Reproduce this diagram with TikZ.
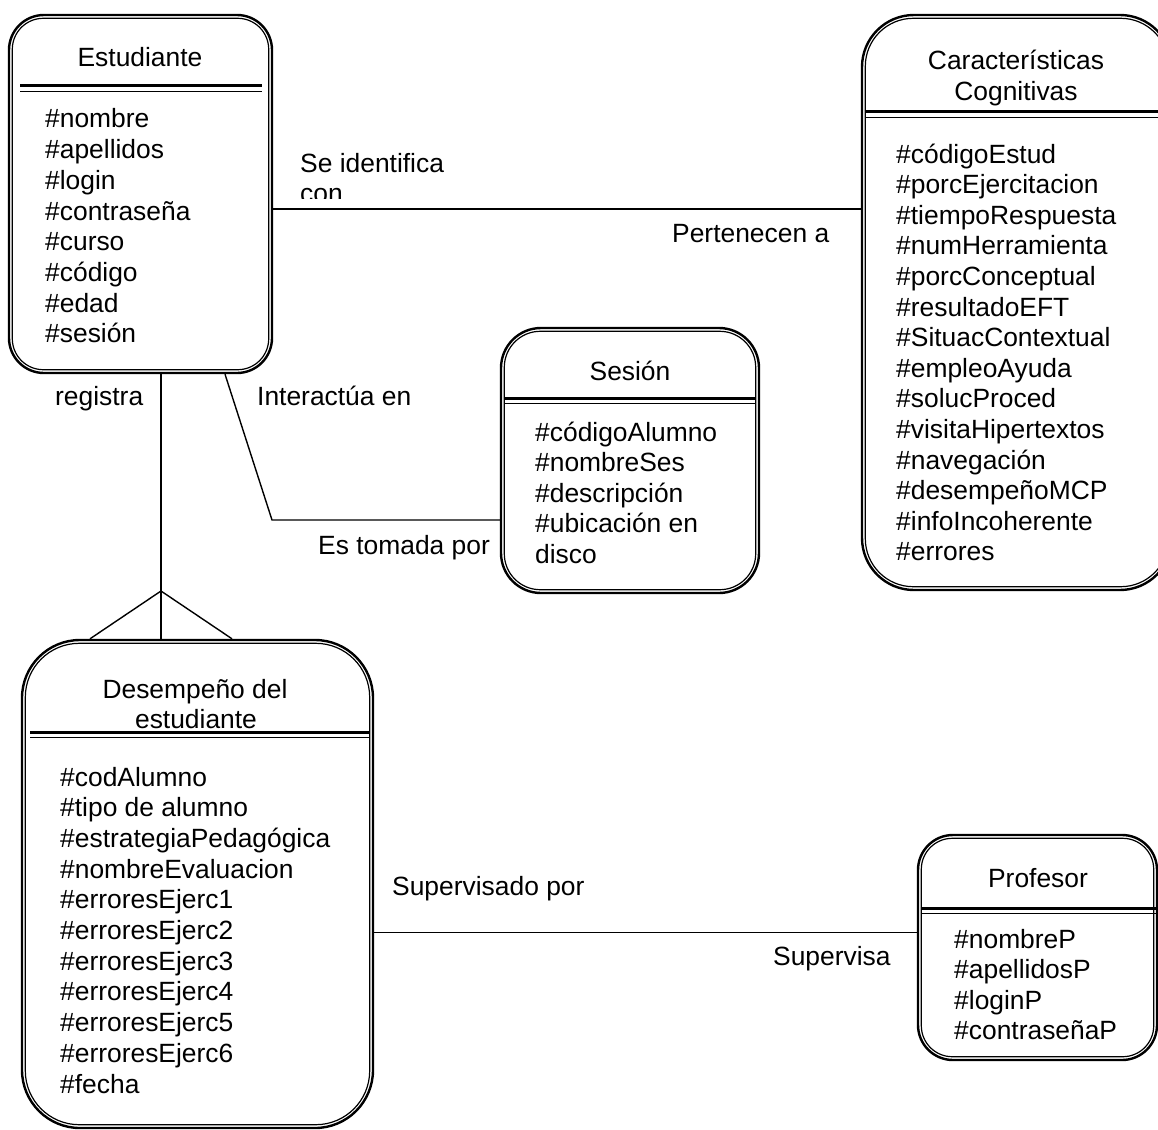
\documentclass[tikz,border=0pt]{standalone}
\usepackage{fontspec}
\setmainfont{Liberation Sans}
\begin{document}
\begin{tikzpicture}[x=1pt,y=-1pt,
  box/.style={draw, line width=2.4pt, inner sep=0pt},
  inbox/.style={line width=1.2pt},
  septhick/.style={line width=3pt},
  septhin/.style={line width=1.4pt},
  conn/.style={line width=1.4pt},
  txt/.style={inner sep=0pt, font=\fontsize{26.4}{30.6}\selectfont},
  attr/.style={txt, anchor=base west},
  head/.style={txt, anchor=base},
  lbl/.style={txt, anchor=base west}]
\clip (0,0) rectangle (1158,1129);
\fill[white] (0,0) rectangle (1158,1129);

% ---- Estudiante
\node[box, rounded corners=35pt, minimum width=263pt, minimum height=358pt] (est) at (140.5,194) {};
\draw[inbox, rounded corners=31pt] ([shift={(4.5,4.5)}]est.north west) rectangle ([shift={(-4.5,-4.5)}]est.south east);
\draw[septhick] (20,86) -- (262,86);
\draw[septhin] (20,91.5) -- (262,91.5);
\node[head] (est-h) at (140,66.5) {Estudiante};
\foreach \t [count=\i] in {\#nombre,\#apellidos,\#login,\#contraseña,\#curso,\#código,\#edad,\#sesión}
  \node[attr] (est-\i) at ({45},{128+30.7*(\i-1)}) {\t};

% ---- Caracteristicas Cognitivas
\node[box, rounded corners=52pt, minimum width=310pt, minimum height=575pt] (car) at (1017,302.5) {};
\draw[inbox, rounded corners=48pt] ([shift={(4.5,4.5)}]car.north west) rectangle ([shift={(-4.5,-4.5)}]car.south east);
\draw[septhick] (866,112) -- (1168,112);
\draw[septhin] (866,117.5) -- (1168,117.5);
\node[head] (car-h1) at (1016,70) {Características};
\node[head] (car-h2) at (1016,100.5) {Cognitivas};
\foreach \t [count=\i] in {\#códigoEstud,\#porcEjercitacion,\#tiempoRespuesta,\#numHerramienta,\#porcConceptual,\#resultadoEFT,\#SituacContextual,\#empleoAyuda,\#solucProced,\#visitaHipertextos,\#navegación,\#desempeñoMCP,\#infoIncoherente,\#errores}
  \node[attr] (car-\i) at ({896},{163+30.6*(\i-1)}) {\t};

% ---- Sesion
\node[box, rounded corners=40pt, minimum width=258pt, minimum height=265pt] (ses) at (630,460.5) {};
\draw[inbox, rounded corners=36pt] ([shift={(4.5,4.5)}]ses.north west) rectangle ([shift={(-4.5,-4.5)}]ses.south east);
\draw[septhick] (505,398) -- (755,398);
\draw[septhin] (505,403.5) -- (755,403.5);
\node[head] (ses-h) at (630,380) {Sesión};
\foreach \t [count=\i] in {\#códigoAlumno,\#nombreSes,\#descripción,\#ubicación en,disco}
  \node[attr] (ses-\i) at ({535},{441+30.6*(\i-1)}) {\t};

% ---- Desempeno del estudiante
\node[box, rounded corners=58pt, minimum width=351pt, minimum height=488pt] (des) at (197.5,884) {};
\draw[inbox, rounded corners=54pt] ([shift={(4.5,4.5)}]des.north west) rectangle ([shift={(-4.5,-4.5)}]des.south east);
\draw[septhick] (30,732) -- (370,732);
\draw[septhin] (30,737.5) -- (370,737.5);
\node[head] (des-h1) at (195,698) {Desempeño del};
\node[head] (des-h2) at (196,728.5) {estudiante};
\foreach \t [count=\i] in {\#codAlumno,\#tipo de alumno,\#estrategiaPedagógica,\#nombreEvaluacion,\#erroresEjerc1,\#erroresEjerc2,\#erroresEjerc3,\#erroresEjerc4,\#erroresEjerc5,\#erroresEjerc6,\#fecha}
  \node[attr] (des-\i) at ({60},{786+30.7*(\i-1)}) {\t};

% ---- Profesor
\node[box, rounded corners=35pt, minimum width=239pt, minimum height=225pt] (pro) at (1037.5,947.5) {};
\draw[inbox, rounded corners=31pt] ([shift={(4.5,4.5)}]pro.north west) rectangle ([shift={(-4.5,-4.5)}]pro.south east);
\draw[septhick] (922,908) -- (1158,908);
\draw[septhin] (922,913.5) -- (1158,913.5);
\node[head] (pro-h) at (1038,887) {Profesor};
\foreach \t [count=\i] in {\#nombreP,\#apellidosP,\#loginP,\#contraseñaP}
  \node[attr] (pro-\i) at ({954},{948+30.6*(\i-1)}) {\t};

% ---- connectors
\coordinate (c1) at (0,209);
\draw[conn] (est.east |- c1) -- (car.west |- c1);
\coordinate (i1) at (225,0);
\coordinate (i2) at (272,520);
\draw[conn] (est.south -| i1) -- (i2) -- (ses.west |- i2);
\coordinate (r1) at (161,0);
\coordinate (cf) at (161,591);
\coordinate (fl) at (90,0);
\coordinate (fr) at (232,0);
\draw[conn] (est.south -| r1) -- (des.north -| r1);
\draw[conn] (des.north -| fl) -- (cf) -- (des.north -| fr);
\coordinate (c2) at (0,932.5);
\draw[conn] (des.east |- c2) -- (pro.west |- c2);

% ---- labels
\node[lbl] (l1) at (300,172) {Se identifica};
\begin{scope}
  \clip (290,150) rectangle (460,198);
  \node[lbl] (l1b) at (300,202) {con};
\end{scope}
\node[lbl] (l2) at (672,242) {Pertenecen a};
\node[lbl] (l3) at (55,405) {registra};
\node[lbl] (l4) at (257,405) {Interactúa en};
\node[lbl] (l5) at (318,554) {Es tomada por};
\node[lbl] (l6) at (392,895) {Supervisado por};
\node[lbl] (l7) at (773,965) {Supervisa};
\end{tikzpicture}
\end{document}
